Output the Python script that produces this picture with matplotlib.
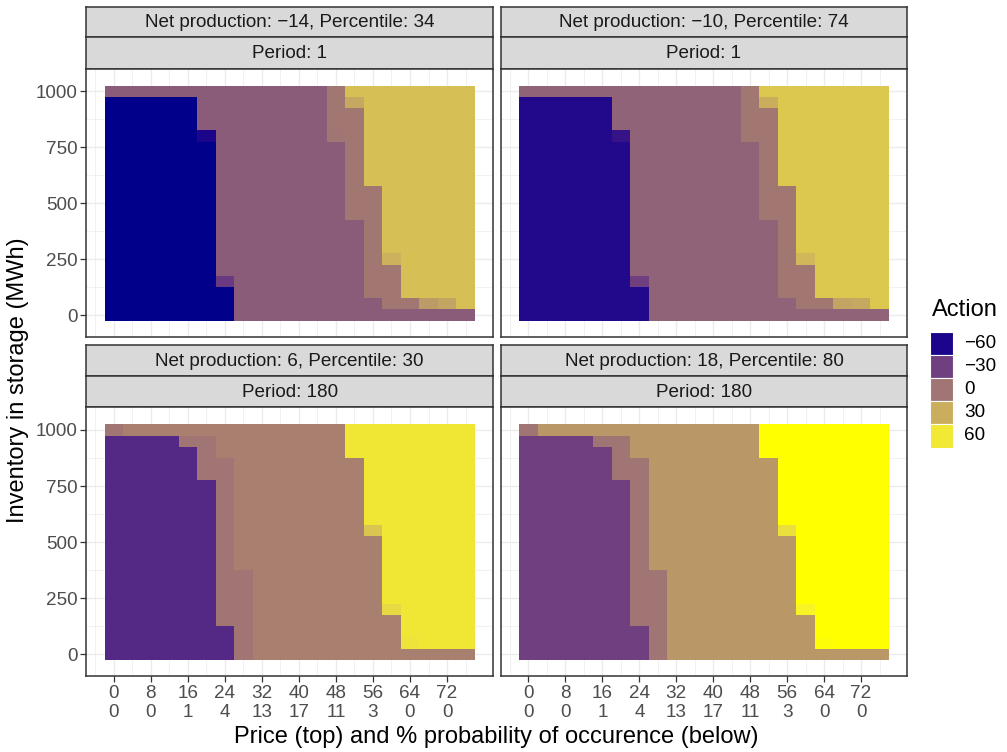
import numpy as np
import matplotlib
matplotlib.use("Agg")
import matplotlib.pyplot as plt
from matplotlib.colors import ListedColormap, Normalize, to_rgb
from matplotlib.patches import Rectangle

# ---------------- data ----------------
prices = [0, 4, 8, 12, 16, 20, 24, 28, 32, 36, 40, 44, 48, 52, 56, 60, 64, 68, 72, 76]
inventory = [0, 50, 100, 150, 200, 250, 300, 350, 400, 450, 500,
             550, 600, 650, 700, 750, 800, 850, 900, 950, 1000]
price_ticks = [0, 8, 16, 24, 32, 40, 48, 56, 64, 72]
prob_labels = ["0", "0", "1", "4", "13", "17", "11", "3", "0", "0"]
inv_ticks = [0, 250, 500, 750, 1000]
legend_breaks = [-60, -30, 0, 30, 60]

net_titles = ["Net production: \u221214, Percentile: 34",
              "Net production: \u221210, Percentile: 74",
              "Net production: 6, Percentile: 30",
              "Net production: 18, Percentile: 80"]
period_titles = ["Period: 1", "Period: 1", "Period: 180", "Period: 180"]

# cell codes, rows listed from inventory 1000 (top) down to 0 (bottom)
grid_p1 = ["MMMMMMMMMMMMRYYYYYYY",
           "BBBBBMMMMMMMRaYYYYYY",
           "BBBBBMMMMMMMRRYYYYYY",
           "BBBBBMMMMMMMRRYYYYYY",
           "BBBBBbMMMMMMrRYYYYYY",
           "BBBBBBMMMMMMMRYYYYYY",
           "BBBBBBMMMMMMMRYYYYYY",
           "BBBBBBMMMMMMMRYYYYYY",
           "BBBBBBMMMMMMMRYYYYYY",
           "BBBBBBMMMMMMMRRYYYYY",
           "BBBBBBMMMMMMMRRYYYYY",
           "BBBBBBMMMMMMMRRYYYYY",
           "BBBBBBMMMMMMMMRYYYYY",
           "BBBBBBMMMMMMMMRYYYYY",
           "BBBBBBMMMMMMMMRYYYYY",
           "BBBBBBMMMMMMMMRcYYYY",
           "BBBBBBMMMMMMMMRRYYYY",
           "BBBBBBpMMMMMMMRRYYYY",
           "BBBBBBBMMMMMMMRRYYYY",
           "BBBBBBBMMMMMMMMRRdeY",
           "BBBBBBBMMMMMMMMMMMMM"]
grid_p2 = grid_p1
grid_p3 = ["PMMMMMMMMMMMMYYYYYYY",
           "BBBBPPMMMMMMMYYYYYYY",
           "BBBBBPMMMMMMMYYYYYYY",
           "BBBBBPPMMMMMMMYYYYYY",
           "BBBBBPPMMMMMMMYYYYYY",
           "BBBBBBPMMMMMMMYYYYYY",
           "BBBBBBPMMMMMMMYYYYYY",
           "BBBBBBPMMMMMMMYYYYYY",
           "BBBBBBPMMMMMMMYYYYYY",
           "BBBBBBPMMMMMMMaYYYYY",
           "BBBBBBPMMMMMMMMYYYYY",
           "BBBBBBPMMMMMMMMYYYYY",
           "BBBBBBPMMMMMMMMYYYYY",
           "BBBBBBPPMMMMMMMYYYYY",
           "BBBBBBPPMMMMMMMYYYYY",
           "BBBBBBPPMMMMMMMYYYYY",
           "BBBBBBPPMMMMMMMcYYYY",
           "BBBBBBPPMMMMMMMMYYYY",
           "BBBBBBBPMMMMMMMMYYYY",
           "BBBBBBBPMMMMMMMMdYYY",
           "BBBBBBBPMMMMMMMMMMMM"]
grid_p4 = grid_p3

values_p1 = {"B": -63, "b": -60, "p": -33, "M": -14, "R": 1, "r": 0,
             "Y": 39, "a": 27, "c": 32, "d": 20, "e": 25}
values_p2 = {"B": -59, "b": -54, "p": -30, "M": -10, "R": 1, "r": 1,
             "Y": 43, "a": 30, "c": 35, "d": 25, "e": 27}
values_p3 = {"B": -43, "M": 6, "P": 0, "Y": 59, "a": 42, "c": 52, "d": 57}
values_p4 = {"B": -30, "M": 18, "P": 0, "Y": 71, "a": 55, "c": 65, "d": 70}

grids = [grid_p1, grid_p2, grid_p3, grid_p4]
value_maps = [values_p1, values_p2, values_p3, values_p4]

# ------------- colour scale (CIELAB gradient like ggplot) -------------
def _srgb_to_lin(c):
    c = np.asarray(c, float)
    return np.where(c <= 0.04045, c / 12.92, ((c + 0.055) / 1.055) ** 2.4)

def _lin_to_srgb(c):
    c = np.clip(c, 0, 1)
    return np.where(c <= 0.0031308, 12.92 * c, 1.055 * c ** (1 / 2.4) - 0.055)

_M = np.array([[0.4124, 0.3576, 0.1805],
               [0.2126, 0.7152, 0.0722],
               [0.0193, 0.1192, 0.9505]])
_WP = np.array([0.95047, 1.0, 1.08883])

def rgb_to_lab(rgb):
    xyz = _M @ _srgb_to_lin(rgb) / _WP
    f = np.where(xyz > 0.008856, np.cbrt(xyz), 7.787 * xyz + 16 / 116)
    return np.array([116 * f[1] - 16, 500 * (f[0] - f[1]), 200 * (f[1] - f[2])])

def lab_to_rgb(lab):
    L, a, b = lab
    fy = (L + 16) / 116
    fx = fy + a / 500
    fz = fy - b / 200
    f = np.array([fx, fy, fz])
    xyz = np.where(f ** 3 > 0.008856, f ** 3, (f - 16 / 116) / 7.787) * _WP
    lin = np.linalg.solve(_M, xyz)
    return np.clip(_lin_to_srgb(lin), 0, 1)

lab_lo = rgb_to_lab(to_rgb("#00008B"))
lab_hi = rgb_to_lab(to_rgb("#FFFF00"))
ts = np.linspace(0, 1, 512)
cmap = ListedColormap([lab_to_rgb(lab_lo + t * (lab_hi - lab_lo)) for t in ts])

all_vals = [v for m, g in zip(value_maps, grids) for row in g for v in [m[ch] for ch in row]]
norm = Normalize(vmin=min(all_vals), vmax=max(all_vals))

# ---------------- figure ----------------
W, H = 1007, 752
plt.rcParams["font.family"] = ["Liberation Sans", "DejaVu Sans"]
fig = plt.figure(figsize=(W / 100, H / 100), dpi=100)

def rect(x0, y0, x1, y1):
    return [x0 / W, 1 - y1 / H, (x1 - x0) / W, (y1 - y0) / H]

BORDER = "#333333"
px_cols = [(86, 493.3), (500.7, 907.3)]
px_rows = [(6.7, 37.0, 68.7, 336.7), (345.0, 376.0, 407.3, 676.0)]

TICK_FS = 13.6
for idx in range(4):
    r, c = divmod(idx, 2)
    x0, x1 = px_cols[c]
    s0, s1, p0, p1 = px_rows[r]
    # strips
    for (ya, yb, txt) in [(s0, s1, net_titles[idx]), (s1, p0, period_titles[idx])]:
        sax = fig.add_axes(rect(x0, ya, x1, yb))
        sax.set_facecolor("#D9D9D9")
        sax.set_xticks([]); sax.set_yticks([])
        for sp in sax.spines.values():
            sp.set_color(BORDER); sp.set_linewidth(1.1)
        sax.text(0.5, 0.47, txt, ha="center", va="center", fontsize=TICK_FS,
                 color="#1A1A1A", transform=sax.transAxes)
    ax = fig.add_axes(rect(x0, p0, x1, p1))
    codes = grids[idx][::-1]
    C = np.array([[value_maps[idx][ch] for ch in row] for row in codes], float)
    ax.pcolormesh(prices, inventory, C, cmap=cmap, norm=norm, shading="nearest", zorder=2)
    ax.set_xlim(-6, 82)
    ax.set_ylim(-97, 1101)
    ax.set_xticks(price_ticks)
    ax.set_xticks(np.arange(-4, 81, 8), minor=True)
    ax.set_yticks(inv_ticks)
    ax.set_yticks([125, 375, 625, 875], minor=True)
    ax.grid(which="major", color="#EBEBEB", linewidth=1.0, zorder=0)
    ax.grid(which="minor", color="#EBEBEB", linewidth=0.5, zorder=0)
    ax.set_axisbelow(True)
    for sp in ax.spines.values():
        sp.set_color(BORDER); sp.set_linewidth(1.1)
    ax.tick_params(which="minor", length=0)
    ax.tick_params(which="major", length=4.25, width=0.9, color=BORDER,
                   labelsize=TICK_FS, labelcolor="#4D4D4D", pad=2.0)
    if c == 0:
        ax.set_yticklabels([str(v) for v in inv_ticks])
    else:
        ax.tick_params(axis="y", which="major", length=0, labelleft=False)
    if r == 1:
        ax.set_xticklabels([f"{p}\n{q}" for p, q in zip(price_ticks, prob_labels)],
                           linespacing=1.15)
    else:
        ax.tick_params(axis="x", which="major", length=0, labelbottom=False)

# axis titles
fig.text(496.7 / W, 1 - 737 / H, "Price (top) and % probability of occurence (below)",
         ha="center", va="center", fontsize=17, color="black")
fig.text(18 / W, 1 - 380 / H, "Inventory in storage (MWh)", rotation=90,
         ha="center", va="center", fontsize=17, color="black")

# legend
fig.text(932 / W, 1 - 310 / H, "Action", ha="left", va="center", fontsize=17, color="black")
key_top = 332.0
key_h = 23.1
for i, v in enumerate(legend_breaks):
    y0 = key_top + i * key_h
    fig.patches.append(Rectangle((930 / W, 1 - (y0 + key_h) / H), 23 / W, key_h / H,
                                 transform=fig.transFigure, facecolor=cmap(norm(v)),
                                 edgecolor="white", linewidth=0.8))
    lab = str(v).replace("-", "\u2212")
    fig.text(964 / W, 1 - (y0 + key_h / 2) / H, lab, ha="left", va="center",
             fontsize=TICK_FS, color="black")

fig.savefig("out.png", dpi=100, facecolor="white")
